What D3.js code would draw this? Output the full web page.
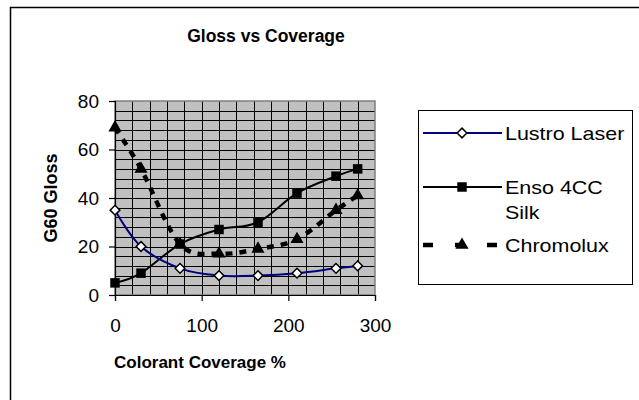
<!DOCTYPE html>
<html>
<head>
<meta charset="utf-8">
<script src="https://cdn.jsdelivr.net/npm/d3@7"></script>
<style>
  body { margin: 0; background: #fff; }
  text { font-family: "Liberation Sans", Arial, sans-serif; fill: #000; }
</style>
</head>
<body>
<div id="chart"></div>
<script>
// data
var coverage = [0, 30, 75, 120, 165, 210, 255, 280];
var lustro = [35, 20, 11, 8, 8, 9, 11, 12];
var enso = [5, 9, 21, 27, 30, 42, 49, 52];
var chromolux = [69, 52, 21, 17, 19, 23, 35, 41];
var xTicks = [0, 100, 200, 300];
var yTicks = [0, 20, 40, 60, 80];

var W = 639, H = 400;
var plot = {left: 115, top: 101, right: 375, bottom: 295};

var svg = d3.select("#chart").append("svg")
  .attr("width", W).attr("height", H);

// outer chart border (right / bottom run off the picture)
svg.append("rect")
  .attr("x", 10.5).attr("y", 7.5)
  .attr("width", 640).attr("height", 400)
  .attr("fill", "#fff").attr("stroke", "#000").attr("stroke-width", 1.5);

var x = d3.scaleLinear().domain([0, 300]).range([plot.left, plot.right]);
var y = d3.scaleLinear().domain([0, 80]).range([plot.bottom, plot.top]);

svg.append("text")
  .attr("x", 266).attr("y", 42)
  .attr("text-anchor", "middle")
  .style("font-size", "17.5px").style("font-weight", "bold")
  .text("Gloss vs Coverage");

// plot area
svg.append("rect")
  .attr("x", plot.left).attr("y", plot.top)
  .attr("width", plot.right - plot.left).attr("height", plot.bottom - plot.top)
  .attr("fill", "#c0c0c0");

var grid = svg.append("g").attr("stroke", "#000").attr("stroke-width", 1);
grid.selectAll("line.h")
  .data(d3.range(4, 80, 4))
  .enter().append("line")
  .attr("x1", plot.left).attr("x2", plot.right)
  .attr("y1", function(d) { return Math.round(y(d)) + 0.5; })
  .attr("y2", function(d) { return Math.round(y(d)) + 0.5; });
grid.selectAll("line.v")
  .data(d3.range(20, 300, 20))
  .enter().append("line")
  .attr("y1", plot.top).attr("y2", plot.bottom)
  .attr("x1", function(d) { return Math.round(x(d)) + 0.5; })
  .attr("x2", function(d) { return Math.round(x(d)) + 0.5; });

svg.append("rect")
  .attr("x", plot.left).attr("y", plot.top)
  .attr("width", plot.right - plot.left).attr("height", plot.bottom - plot.top)
  .attr("fill", "none").attr("stroke", "#808080").attr("stroke-width", 1.5);

// axes
var xAxis = svg.append("g")
  .attr("transform", "translate(0," + plot.bottom + ")")
  .call(d3.axisBottom(x).tickValues(xTicks).tickSize(6).tickPadding(18));
var yAxis = svg.append("g")
  .attr("transform", "translate(" + plot.left + ",0)")
  .call(d3.axisLeft(y).tickValues(yTicks).tickSize(6).tickPadding(10));
[xAxis, yAxis].forEach(function(a) {
  a.select(".domain").attr("stroke", "#000").attr("stroke-width", 1.2);
  a.selectAll(".tick line").attr("stroke", "#000").attr("stroke-width", 1.2);
  a.selectAll("text").attr("font-family", "Liberation Sans, Arial, sans-serif")
    .style("font-size", "19px").attr("fill", "#000");
});

svg.append("text")
  .attr("x", 200).attr("y", 368)
  .attr("text-anchor", "middle")
  .style("font-size", "17px").style("font-weight", "bold")
  .text("Colorant Coverage %");

svg.append("text")
  .attr("transform", "translate(57," + ((plot.top + plot.bottom) / 2) + ") rotate(-90)")
  .attr("text-anchor", "middle")
  .style("font-size", "18px").style("font-weight", "bold")
  .text("G60 Gloss");

// series
var series = [
  {name: "Lustro Laser", values: lustro, color: "#000080", width: 2, dash: null, marker: "diamond"},
  {name: "Enso 4CC", values: enso, color: "#000", width: 2, dash: null, marker: "square"},
  {name: "Chromolux", values: chromolux, color: "#000", width: 4.5, dash: "7,7", marker: "triangle"}
];

var line = d3.line()
  .x(function(d) { return x(d[0]); })
  .y(function(d) { return y(d[1]); })
  .curve(d3.curveCatmullRom.alpha(0));

function drawMarker(g, type, cx, cy) {
  if (type === "diamond") {
    g.append("path")
      .attr("d", d3.symbol().type(d3.symbolDiamond2).size(60)())
      .attr("transform", "translate(" + cx + "," + cy + ")")
      .attr("fill", "#fff").attr("stroke", "#000").attr("stroke-width", 1.5);
  } else if (type === "square") {
    g.append("path")
      .attr("d", d3.symbol().type(d3.symbolSquare).size(90)())
      .attr("transform", "translate(" + cx + "," + cy + ")")
      .attr("fill", "#000");
  } else {
    g.append("path")
      .attr("d", d3.symbol().type(d3.symbolTriangle).size(75)())
      .attr("transform", "translate(" + cx + "," + cy + ")")
      .attr("fill", "#000");
  }
}

series.slice().reverse().forEach(function(s) {
  var pts = coverage.map(function(c, i) { return [c, s.values[i]]; });
  svg.append("path")
    .attr("d", line(pts))
    .attr("fill", "none")
    .attr("stroke", s.color)
    .attr("stroke-width", s.width)
    .attr("stroke-dasharray", s.dash);
  var mg = svg.append("g");
  pts.forEach(function(p) { drawMarker(mg, s.marker, x(p[0]), y(p[1])); });
});

// legend
var legend = svg.append("g");
legend.append("rect")
  .attr("x", 418.5).attr("y", 110.5)
  .attr("width", 214).attr("height", 174)
  .attr("fill", "#fff").attr("stroke", "#000").attr("stroke-width", 1);

var legendRows = [
  {s: series[0], y: 133, lines: ["Lustro Laser"]},
  {s: series[1], y: 187, lines: ["Enso 4CC", "Silk"]},
  {s: series[2], y: 245, lines: ["Chromolux"]}
];
legendRows.forEach(function(r) {
  legend.append("line")
    .attr("x1", 423).attr("x2", 502)
    .attr("y1", r.y).attr("y2", r.y)
    .attr("stroke", r.s.color)
    .attr("stroke-width", r.s.width)
    .attr("stroke-dasharray", r.s.dash ? "10,22" : null);
  drawMarker(legend, r.s.marker, 462, r.y);
  r.lines.forEach(function(t, i) {
    legend.append("text")
      .attr("transform", "translate(505," + (r.y + 7 + i * 25) + ") scale(1.13,1)")
      .style("font-size", "19px")
      .text(t);
  });
});
</script>
</body>
</html>
